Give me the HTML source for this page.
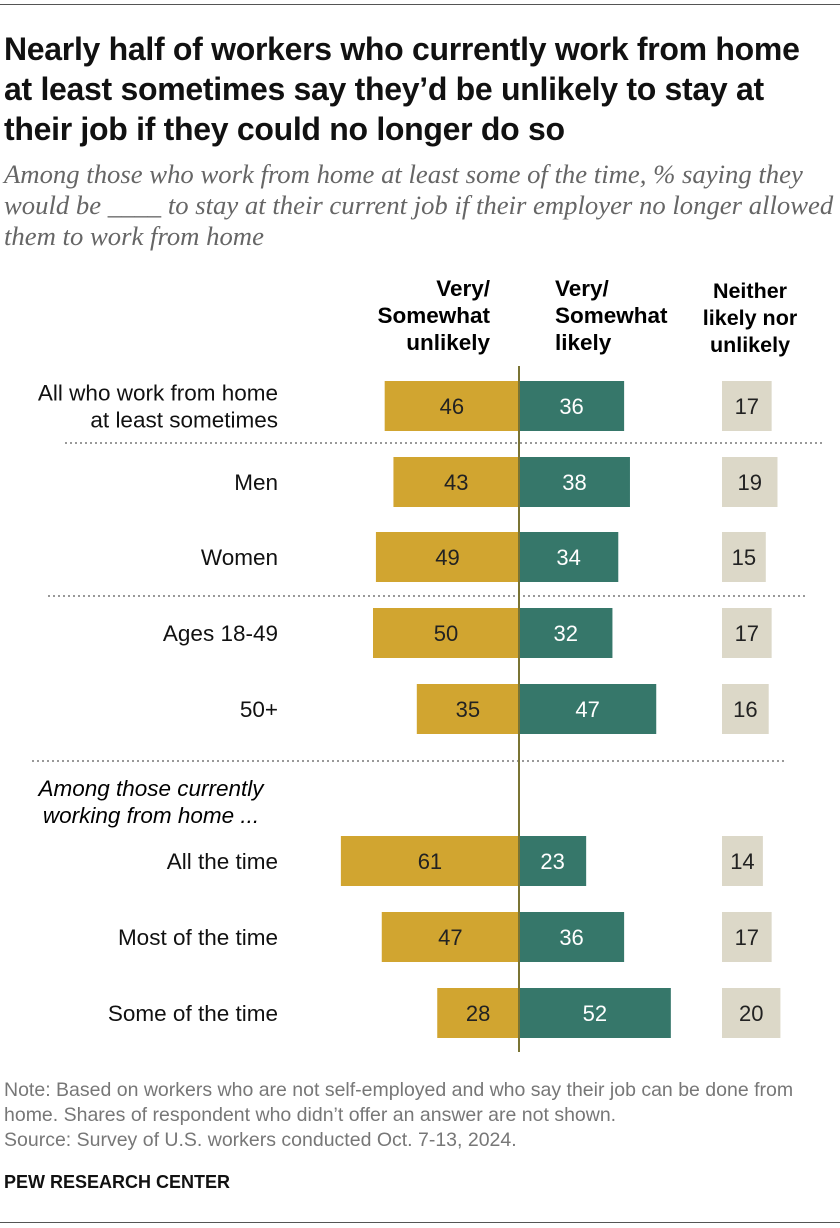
<!DOCTYPE html>
<html><head><meta charset="utf-8"><style>
body{margin:0;background:#fff;font-family:"Liberation Sans",sans-serif;}
#w{position:relative;width:840px;height:1228px;overflow:hidden;}
.t{position:absolute;white-space:nowrap;}
</style></head><body><div id="w">
<div class="t" style="left:0;top:4px;width:840px;height:1px;background:#555"></div>
<div class="t" style="left:4px;top:29px;font-size:32px;font-weight:bold;line-height:40px;color:#111;letter-spacing:-0.3px">Nearly half of workers who currently work from home<br>at least sometimes say they’d be unlikely to stay at<br>their job if they could no longer do so</div>
<div class="t" style="left:4px;top:159px;font-family:'Liberation Serif',serif;font-style:italic;font-size:26.7px;line-height:31px;color:#666">Among those who work from home at least some of the time, % saying they<br>would be ____ to stay at their current job if their employer no longer allowed<br>them to work from home</div>
<div class="t" style="left:340px;top:275px;width:150px;text-align:right;font-size:22.5px;font-weight:bold;line-height:27px">Very/<br>Somewhat<br>unlikely</div>
<div class="t" style="left:555px;top:275px;width:150px;font-size:22.5px;font-weight:bold;line-height:27px">Very/<br>Somewhat<br>likely</div>
<div class="t" style="left:680px;top:278px;width:140px;text-align:center;font-size:21.5px;font-weight:bold;line-height:27px">Neither<br>likely nor<br>unlikely</div>
<div class="t" style="left:20px;top:775px;width:262px;text-align:center;font-style:italic;font-size:22.5px;line-height:27px">Among those currently<br>working from home ...</div>
<svg class="t" id="svg" style="left:0;top:0" width="840" height="1228"></svg>
<div class="t" style="left:4px;top:1078px;font-size:19.5px;line-height:25px;color:#777">Note: Based on workers who are not self-employed and who say their job can be done from<br>home. Shares of respondent who didn’t offer an answer are not shown.<br>Source: Survey of U.S. workers conducted Oct. 7-13, 2024.</div>
<div class="t" style="left:4px;top:1172px;font-size:18px;font-weight:bold;color:#111">PEW RESEARCH CENTER</div>
<div class="t" style="left:0;top:1222px;width:840px;height:1px;background:#555"></div>
</div>
<script>
const categories=[["All who work from home","at least sometimes"],["Men"],["Women"],["Ages 18-49"],["50+"],["All the time"],["Most of the time"],["Some of the time"]];
const unlikely=[46,43,49,50,35,61,47,28];
const likely=[36,38,34,32,47,23,36,52];
const neither=[17,19,15,17,16,14,17,20];
const rowY=[406,482,557,633,709,861,937,1013];
const ns="http://www.w3.org/2000/svg",svg=document.getElementById('svg');
const cx=519,k=2.92,nx=722,bh=50;
function x(v){return v*k;}
function mk(t,a){const e=document.createElementNS(ns,t);for(const p in a)e.setAttribute(p,a[p]);svg.appendChild(e);return e;}
[[443,65,822],[596,48,806],[761,32,786]].forEach(d=>{
 const l=mk('line',{x1:d[1],x2:d[2],y1:d[0],y2:d[0],stroke:'#999','stroke-width':2,'stroke-dasharray':'2,3'});
 
 
});
categories.forEach((c,i)=>{
 const y=rowY[i];
 let r=mk('rect',{x:cx-x(unlikely[i]),y:y-bh/2,width:x(unlikely[i]),height:bh,fill:'#d1a530'});
 
 
 r=mk('rect',{x:cx,y:y-bh/2,width:x(likely[i]),height:bh,fill:'#36776a'});
 
 
 r=mk('rect',{x:nx,y:y-bh/2,width:x(neither[i]),height:bh,fill:'#dcd8c8'});
 
 
 let t=mk('text',{x:cx-x(unlikely[i])/2,y:y+8,'text-anchor':'middle','font-size':22,fill:'#222'});t.textContent=unlikely[i];
 
 
 t=mk('text',{x:cx+x(likely[i])/2,y:y+8,'text-anchor':'middle','font-size':22,fill:'#fff'});t.textContent=likely[i];
 
 
 t=mk('text',{x:nx+x(neither[i])/2,y:y+8,'text-anchor':'middle','font-size':22,fill:'#222'});t.textContent=neither[i];
 
 
 c.forEach((s,j)=>{
  const tt=mk('text',{x:278,y:y+8+(j-(c.length-1)/2)*27,'text-anchor':'end','font-size':22.5,fill:'#111'});tt.textContent=s;
  
  
 });
});
const ax=mk('line',{x1:cx,x2:cx,y1:366,y2:1052,stroke:'#7a7434','stroke-width':2});


</script></body></html>
